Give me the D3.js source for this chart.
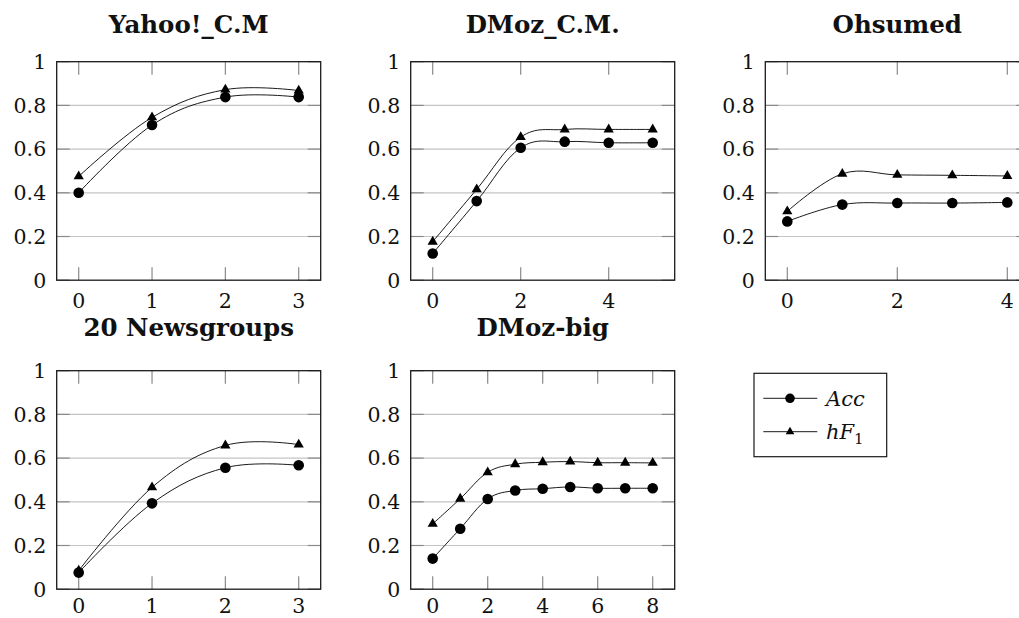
<!DOCTYPE html>
<html>
<head>
<meta charset="utf-8">
<script src="https://cdn.jsdelivr.net/npm/d3@7"></script>
<style>
  html, body { margin: 0; padding: 0; background: #fff; }
  svg { display: block; }
</style>
</head>
<body>
<svg id="chart" width="1019" height="618"></svg>
<script>
// ---------- data ----------
const panelTitles = ["Yahoo!_C.M", "DMoz_C.M.", "Ohsumed", "20 Newsgroups", "DMoz-big"];
const seriesNames = ["Acc", "hF1"];

const yahooLevels = [0, 1, 2, 3];
const yahooAcc = [0.40, 0.71, 0.838, 0.838];
const yahooHF1 = [0.475, 0.745, 0.872, 0.868];

const dmozCMLevels = [0, 1, 2, 3, 4, 5];
const dmozCMAcc = [0.122, 0.362, 0.606, 0.634, 0.629, 0.629];
const dmozCMHF1 = [0.176, 0.416, 0.655, 0.690, 0.690, 0.690];

const ohsumedLevels = [0, 1, 2, 3, 4];
const ohsumedAcc = [0.269, 0.346, 0.353, 0.353, 0.356];
const ohsumedHF1 = [0.315, 0.487, 0.482, 0.480, 0.477];

const newsLevels = [0, 1, 2, 3];
const newsAcc = [0.076, 0.393, 0.556, 0.567];
const newsHF1 = [0.085, 0.466, 0.658, 0.662];

const dmozBigLevels = [0, 1, 2, 3, 4, 5, 6, 7, 8];
const dmozBigAcc = [0.140, 0.277, 0.413, 0.452, 0.460, 0.468, 0.462, 0.462, 0.462];
const dmozBigHF1 = [0.299, 0.414, 0.535, 0.572, 0.581, 0.584, 0.579, 0.579, 0.578];

const xTicksYahoo = [0, 1, 2, 3];
const xTicksDmozCM = [0, 2, 4];
const xTicksOhsumed = [0, 2, 4];
const xTicksNews = [0, 1, 2, 3];
const xTicksDmozBig = [0, 2, 4, 6, 8];

const yTicks = [0, 0.2, 0.4, 0.6, 0.8, 1];
const yTickLabels = ["0", "0.2", "0.4", "0.6", "0.8", "1"];

// ---------- layout ----------
const panels = [
  { title: panelTitles[0], x: yahooLevels,   acc: yahooAcc,   hf1: yahooHF1,   ticks: xTicksYahoo,   left: 56.7,  top: 61.7,  titleGap: 28.8, xlabGap: 20.5 },
  { title: panelTitles[1], x: dmozCMLevels,  acc: dmozCMAcc,  hf1: dmozCMHF1,  ticks: xTicksDmozCM,  left: 410.7, top: 61.7,  titleGap: 28.8, xlabGap: 20.5 },
  { title: panelTitles[2], x: ohsumedLevels, acc: ohsumedAcc, hf1: ohsumedHF1, ticks: xTicksOhsumed, left: 765.3, top: 61.7,  titleGap: 28.8, xlabGap: 20.5 },
  { title: panelTitles[3], x: newsLevels,    acc: newsAcc,    hf1: newsHF1,    ticks: xTicksNews,    left: 56.7,  top: 370.7, titleGap: 35.0, xlabGap: 16.5 },
  { title: panelTitles[4], x: dmozBigLevels, acc: dmozBigAcc, hf1: dmozBigHF1, ticks: xTicksDmozBig, left: 410.7, top: 370.7, titleGap: 35.0, xlabGap: 16.5 }
];
const W = 264, H = 218.5;
const tickLen = 13;
const numFont = "DejaVu Serif";
const circleR = 5.3, triR = 5.9;

const svg = d3.select("#chart");

function triPath(r) {
  const h = r * Math.sqrt(3) / 2;
  return `M0,${-r}L${h},${r / 2}L${-h},${r / 2}Z`;
}

panels.forEach(p => {
  const xmin = d3.min(p.x), xmax = d3.max(p.x);
  const pad = (xmax - xmin) * 0.1;
  const x = d3.scaleLinear().domain([xmin - pad, xmax + pad]).range([p.left, p.left + W]);
  const y = d3.scaleLinear().domain([0, 1]).range([p.top + H, p.top]);
  const g = svg.append("g");

  // grid lines
  g.selectAll("line.grid").data(yTicks.filter(v => v > 0 && v < 1)).join("line")
    .attr("x1", x.range()[0]).attr("x2", x.range()[1])
    .attr("y1", d => y(d)).attr("y2", d => y(d))
    .attr("stroke", "#c4c4c4").attr("stroke-width", 1.2);

  // y ticks (inside, left and right)
  yTicks.forEach(v => {
    g.append("line").attr("x1", x.range()[0]).attr("x2", x.range()[0] + tickLen)
      .attr("y1", y(v)).attr("y2", y(v)).attr("stroke", "#8a8a8a").attr("stroke-width", 1.2);
    g.append("line").attr("x1", x.range()[1] - tickLen).attr("x2", x.range()[1])
      .attr("y1", y(v)).attr("y2", y(v)).attr("stroke", "#8a8a8a").attr("stroke-width", 1.2);
  });
  // x ticks (inside, bottom and top)
  p.ticks.forEach(v => {
    g.append("line").attr("x1", x(v)).attr("x2", x(v))
      .attr("y1", y(0)).attr("y2", y(0) - tickLen).attr("stroke", "#8a8a8a").attr("stroke-width", 1.2);
    g.append("line").attr("x1", x(v)).attr("x2", x(v))
      .attr("y1", y(1)).attr("y2", y(1) + tickLen).attr("stroke", "#8a8a8a").attr("stroke-width", 1.2);
  });

  // frame
  g.append("rect").attr("x", p.left).attr("y", p.top).attr("width", W).attr("height", H)
    .attr("fill", "none").attr("stroke", "#1a1a1a").attr("stroke-width", 1.3);

  // y tick labels
  g.selectAll("text.ytl").data(yTicks).join("text")
    .attr("x", p.left - 10.5).attr("y", d => y(d))
    .attr("dy", "0.36em")
    .attr("text-anchor", "end")
    .attr("font-family", numFont).attr("font-size", 20.5).attr("fill", "#111")
    .text((d, i) => yTickLabels[i]);

  // x tick labels
  g.selectAll("text.xtl").data(p.ticks).join("text")
    .attr("x", d => x(d)).attr("y", y(0) + p.xlabGap)
    .attr("dy", "0.36em")
    .attr("text-anchor", "middle")
    .attr("font-family", numFont).attr("font-size", 20.5).attr("fill", "#111")
    .text(d => d);

  // title
  g.append("text").attr("x", p.left + W / 2).attr("y", p.top - p.titleGap)
    .attr("text-anchor", "middle")
    .attr("font-family", numFont).attr("font-weight", "bold").attr("font-size", 24.5)
    .attr("fill", "#111")
    .text(p.title);

  const line = d3.line().x(d => x(d[0])).y(d => y(d[1])).curve(d3.curveCardinal.tension(-0.1));
  const accPts = p.x.map((v, i) => [v, p.acc[i]]);
  const hfPts = p.x.map((v, i) => [v, p.hf1[i]]);

  [accPts, hfPts].forEach(pts => {
    g.append("path").attr("d", line(pts)).attr("fill", "none")
      .attr("stroke", "#000").attr("stroke-width", 0.9);
  });
  g.selectAll("circle.acc").data(accPts).join("circle")
    .attr("cx", d => x(d[0])).attr("cy", d => y(d[1])).attr("r", circleR).attr("fill", "#000");
  g.selectAll("path.hf").data(hfPts).join("path")
    .attr("d", triPath(triR))
    .attr("transform", d => `translate(${x(d[0])},${y(d[1])})`).attr("fill", "#000");
});

// ---------- legend ----------
const lg = svg.append("g");
lg.append("rect").attr("x", 754).attr("y", 373.3).attr("width", 132.7).attr("height", 83.4)
  .attr("fill", "#fff").attr("stroke", "#1a1a1a").attr("stroke-width", 1.2);
const legendRows = [398.3, 431.7];
legendRows.forEach((ry, i) => {
  lg.append("line").attr("x1", 763.3).attr("x2", 817.3).attr("y1", ry).attr("y2", ry)
    .attr("stroke", "#000").attr("stroke-width", 0.9);
  if (i === 0) {
    lg.append("circle").attr("cx", 790).attr("cy", ry).attr("r", 4.8).attr("fill", "#000");
  } else {
    lg.append("path").attr("d", triPath(5)).attr("transform", `translate(790,${ry})`).attr("fill", "#000");
  }
  const t = lg.append("text").attr("x", 826).attr("y", ry).attr("dy", "0.36em")
    .attr("font-family", numFont).attr("font-style", "italic").attr("font-size", 21).attr("fill", "#111");
  if (seriesNames[i] === "Acc") {
    t.text("Acc");
  } else {
    t.append("tspan").text("hF");
    t.append("tspan").attr("font-style", "normal").attr("font-size", 15).attr("dy", "5").text("1");
  }
});
</script>
</body>
</html>
